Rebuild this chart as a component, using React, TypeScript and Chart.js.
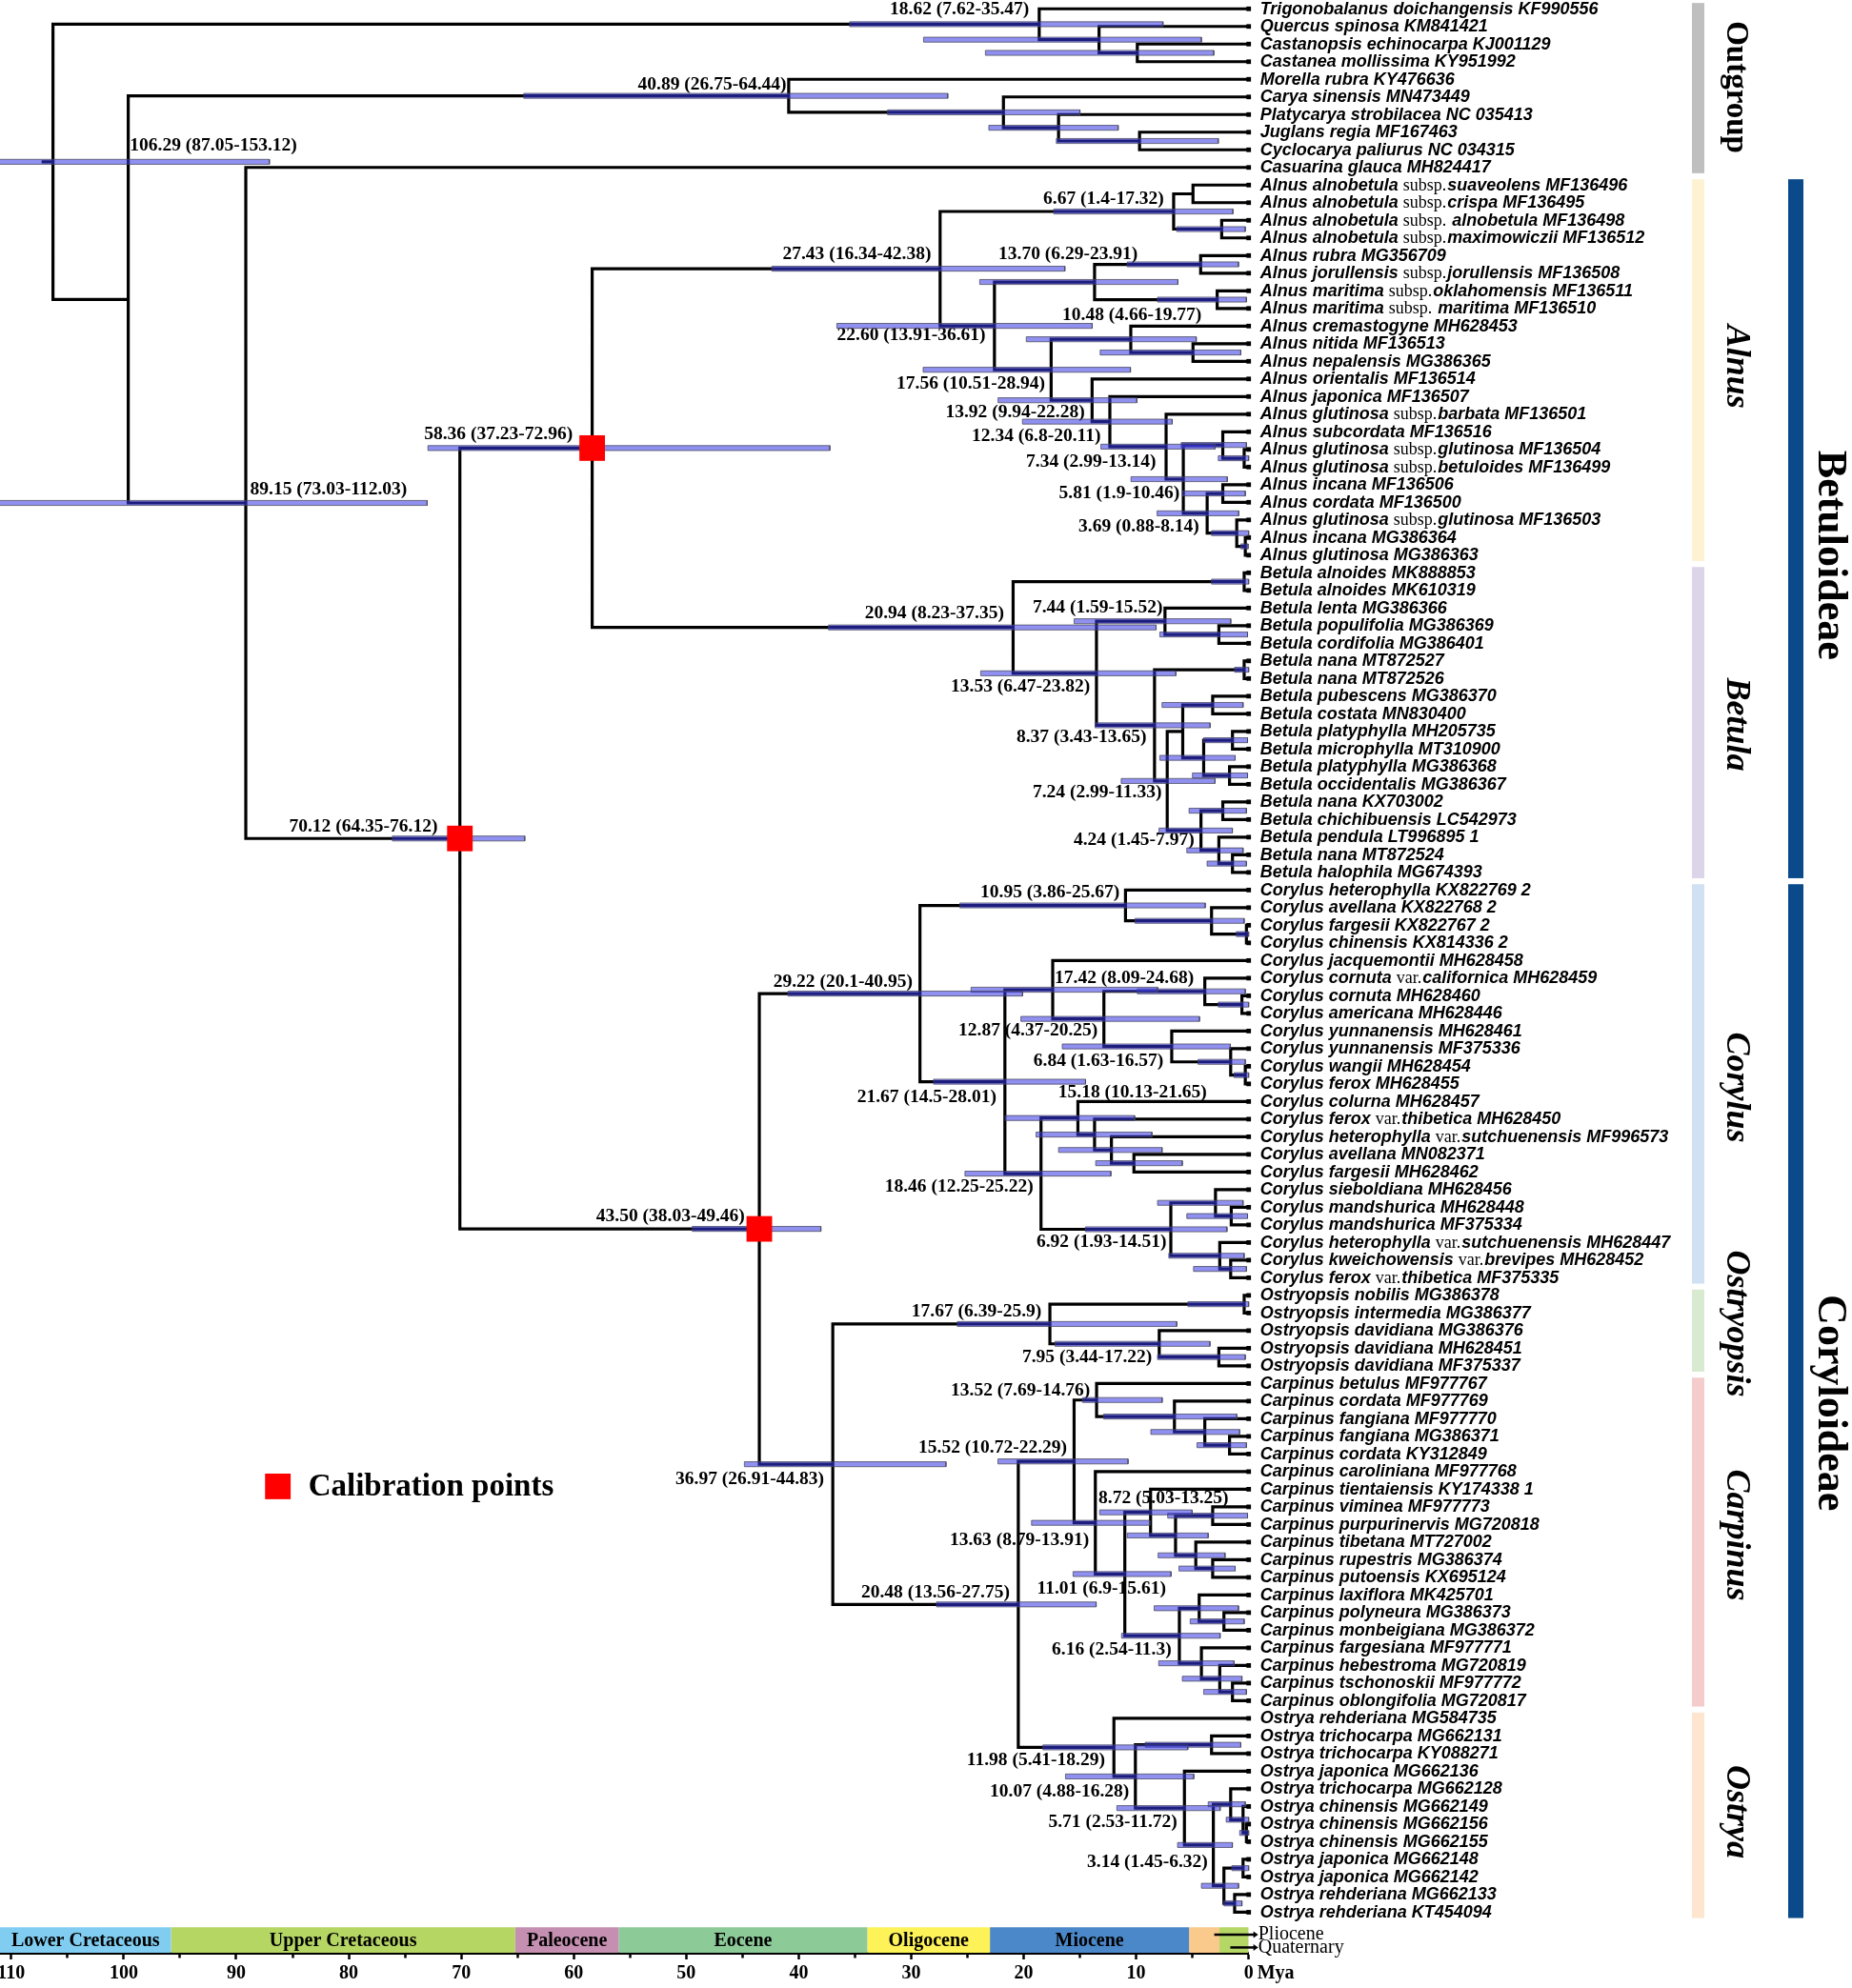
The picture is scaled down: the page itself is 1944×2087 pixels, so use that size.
import React, { useEffect, useRef } from 'react';
import { Chart, registerables } from 'chart.js';

Chart.register(...registerables);

// ------------------------------------------------------------------ DATA
const TIP_NAMES: string[] = [
  'Trigonobalanus doichangensis KF990556', 'Quercus spinosa KM841421', 'Castanopsis echinocarpa KJ001129',
  'Castanea mollissima KY951992', 'Morella rubra KY476636', 'Carya sinensis MN473449',
  'Platycarya strobilacea NC 035413', 'Juglans regia MF167463', 'Cyclocarya paliurus NC 034315',
  'Casuarina glauca MH824417',
  'Alnus alnobetula subsp.suaveolens MF136496', 'Alnus alnobetula subsp.crispa MF136495',
  'Alnus alnobetula subsp. alnobetula MF136498', 'Alnus alnobetula subsp.maximowiczii MF136512',
  'Alnus rubra MG356709', 'Alnus jorullensis subsp.jorullensis MF136508',
  'Alnus maritima subsp.oklahomensis MF136511', 'Alnus maritima subsp. maritima MF136510',
  'Alnus cremastogyne MH628453', 'Alnus nitida MF136513', 'Alnus nepalensis MG386365',
  'Alnus orientalis MF136514', 'Alnus japonica MF136507', 'Alnus glutinosa subsp.barbata MF136501',
  'Alnus subcordata MF136516', 'Alnus glutinosa subsp.glutinosa MF136504',
  'Alnus glutinosa subsp.betuloides MF136499', 'Alnus incana MF136506', 'Alnus cordata MF136500',
  'Alnus glutinosa subsp.glutinosa MF136503', 'Alnus incana MG386364', 'Alnus glutinosa MG386363',
  'Betula alnoides MK888853', 'Betula alnoides MK610319', 'Betula lenta MG386366',
  'Betula populifolia MG386369', 'Betula cordifolia MG386401', 'Betula nana MT872527',
  'Betula nana MT872526', 'Betula pubescens MG386370', 'Betula costata MN830400',
  'Betula platyphylla MH205735', 'Betula microphylla MT310900', 'Betula platyphylla MG386368',
  'Betula occidentalis MG386367', 'Betula nana KX703002', 'Betula chichibuensis LC542973',
  'Betula pendula LT996895 1', 'Betula nana MT872524', 'Betula halophila MG674393',
  'Corylus heterophylla KX822769 2', 'Corylus avellana KX822768 2', 'Corylus fargesii KX822767 2',
  'Corylus chinensis KX814336 2', 'Corylus jacquemontii MH628458', 'Corylus cornuta var.californica MH628459',
  'Corylus cornuta MH628460', 'Corylus americana MH628446', 'Corylus yunnanensis MH628461',
  'Corylus yunnanensis MF375336', 'Corylus wangii MH628454', 'Corylus ferox MH628455',
  'Corylus colurna MH628457', 'Corylus ferox var.thibetica MH628450',
  'Corylus heterophylla var.sutchuenensis MF996573', 'Corylus avellana MN082371', 'Corylus fargesii MH628462',
  'Corylus sieboldiana MH628456', 'Corylus mandshurica MH628448', 'Corylus mandshurica MF375334',
  'Corylus heterophylla var.sutchuenensis MH628447', 'Corylus kweichowensis var.brevipes MH628452',
  'Corylus ferox var.thibetica MF375335',
  'Ostryopsis nobilis MG386378', 'Ostryopsis intermedia MG386377', 'Ostryopsis davidiana MG386376',
  'Ostryopsis davidiana MH628451', 'Ostryopsis davidiana MF375337',
  'Carpinus betulus MF977767', 'Carpinus cordata MF977769', 'Carpinus fangiana MF977770',
  'Carpinus fangiana MG386371', 'Carpinus cordata KY312849', 'Carpinus caroliniana MF977768',
  'Carpinus tientaiensis KY174338 1', 'Carpinus viminea MF977773', 'Carpinus purpurinervis MG720818',
  'Carpinus tibetana MT727002', 'Carpinus rupestris MG386374', 'Carpinus putoensis KX695124',
  'Carpinus laxiflora MK425701', 'Carpinus polyneura MG386373', 'Carpinus monbeigiana MG386372',
  'Carpinus fargesiana MF977771', 'Carpinus hebestroma MG720819', 'Carpinus tschonoskii MF977772',
  'Carpinus oblongifolia MG720817',
  'Ostrya rehderiana MG584735', 'Ostrya trichocarpa MG662131', 'Ostrya trichocarpa KY088271',
  'Ostrya japonica MG662136', 'Ostrya trichocarpa MG662128', 'Ostrya chinensis MG662149',
  'Ostrya chinensis MG662156', 'Ostrya chinensis MG662155', 'Ostrya japonica MG662148',
  'Ostrya japonica MG662142', 'Ostrya rehderiana MG662133', 'Ostrya rehderiana KT454094',
];

// Sub-trees: "(childA,childB)age[hpdLow,hpdHigh]" ; numbers in leaves = tip index ; "*" = calibration node
const FAGACEAE = '(0,(1,(2,3)9.9[3.1,23.4])13.3[4.2,28.9])18.62[7.62,35.47]';
const JUGLANDALES = '(4,(5,(6,(7,8)9.7[2.7,17.1])16.9[11.6,23.1])21.8[15.0,32.1])40.89[26.75,64.44]';

const ALNUS_1 = '((10,11)4.95,(12,13)2.4[0.3,6.4])6.67[1.4,17.32]';
const ALNUS_2 = '((14,15)4.27[0.9,10.8],(16,17)2.8[0.2,8.1])13.70[6.29,23.91]';
const ALNUS_3 = '(18,(19,20)4.95[0.7,13.2])10.48[4.66,19.77]';
const ALNUS_4 =
  '(21,(22,(23,((24,(25,26)0.4[0,2.7])2.3[0.2,6.0],((27,28)2.3[0.3,5.9],(29,(30,31)0.3[0.05,0.7])1.06[0,3.3])3.69[0.88,8.14])5.81[1.9,10.46])7.34[2.99,13.14])12.34[6.8,20.11])13.92[9.94,22.28]';
const ALNUS = `(${ALNUS_1},(${ALNUS_2},(${ALNUS_3},${ALNUS_4})17.56[10.51,28.94])22.60[13.91,36.61])27.43[16.34,42.38]`;

const BETULA_A = '(34,(35,36)2.65[0.1,7.9])7.44[1.59,15.52]';
const BETULA_B = '((39,40)3.2[0.5,7.7],((41,42)1.44[0.1,4.0],(43,44)1.7[0.1,5.0])4.0[1.2,7.9])5.86';
const BETULA_C = '((45,46)2.3[0.2,5.3],(47,(48,49)1.44[0.2,3.7])2.65[0.5,5.5])4.24[1.45,7.97]';
const BETULA = `((32,33)0.4[0,3.3],(${BETULA_A},((37,38)0.4[0,1.25],(${BETULA_B},${BETULA_C})7.24[2.99,11.33])8.37[3.43,13.65])13.53[6.47,23.82])20.94[8.23,37.35]`;

const CORYLUS_1 = '(50,(51,(52,53)0.2[0,1.1])3.3[0.4,10.1])10.95[3.86,25.67]';
const CORYLUS_2 =
  '(54,((55,(56,57)0.6[0,2.7])3.9[0.3,9.9],(58,(59,(60,61)0.3[0,1.3])1.6[0.3,4.5])6.84[1.63,16.57])12.87[4.37,20.25])17.42[8.09,24.68]';
const CORYLUS_3 = '(62,(63,(64,(65,66)10.2[5.9,13.6])12.2[7.7,16.9])13.7[8.6,18.9])15.18[10.13,21.65]';
const CORYLUS_4 = '((67,(68,69)1.55[0.1,5.5])2.95[0.5,8.1],(70,(71,72)1.6[0.2,4.9])2.57[0.4,7.1])6.92[1.93,14.51]';
const CORYLUS = `(${CORYLUS_1},(${CORYLUS_2},(${CORYLUS_3},${CORYLUS_4})18.46[12.25,25.22])21.67[14.5,28.01])29.22[20.1,40.95]`;

const OSTRYOPSIS = '((73,74)0.4[0,5.4],(75,(76,77)2.65[0.3,8.1])7.95[3.44,17.22])17.67[6.39,25.9]';

const CARPINUS_1 = '(78,(79,(80,(81,82)1.7[0.2,4.6])3.9[0.8,8.7])6.6[1.06,12.9])13.52[7.69,14.76]';
const CARPINUS_2 =
  '(83,((84,((85,86)3.2[0.1,7.2],(87,(88,89)3.2[1.2,6.2])4.7[2.1,8.05])6.5[3.6,10.8])8.72[5.03,13.25],((90,(91,92)2.2[0.4,5.2])4.4[0.9,8.4],(93,(94,(95,96)1.44[0.2,4.0])2.57[0.6,5.9])4.2[1.3,8.0])6.16[2.54,11.3])11.01[6.9,15.61])13.63[8.79,19.3]';
const CARPINUS = `(${CARPINUS_1},${CARPINUS_2})15.52[10.72,22.29]`;

const OSTRYA =
  '(97,((98,99)3.3[0.7,9.2],(100,((101,(102,(103,104)0.2[0,0.8])0.5[0,2.0])1.6[0.3,3.6],((105,106)0.5[0,1.5],(107,108)1.25[0.6,2.2])2.2[0.9,4.2])3.14[1.45,6.32])5.71[2.53,11.72])10.07[4.88,16.28])11.98[5.41,18.29]';

const BETULOIDEAE = `(${ALNUS},${BETULA})58.36*[37.23,72.96]`;
const CORYLOIDEAE = `(${CORYLUS},(${OSTRYOPSIS},(${CARPINUS},${OSTRYA})20.48[13.56,27.75])36.97[26.91,44.83])43.50*[38.03,49.46]`;
const BETULACEAE = `(${BETULOIDEAE},${CORYLOIDEAE})70.12*[64.35,76.12]`;
const TREE = `(${FAGACEAE},(${JUGLANDALES},(9,${BETULACEAE})89.15[73.03,112.03])99.6)106.29[87.05,153.12]`;
const ROOT_STUB_AGE = 107.3;

// node age annotations (text, left edge in Mya, centre in tip rows)
const NODE_LABEL_TEXT = [
  '18.62 (7.62-35.47)', '40.89 (26.75-64.44)', '106.29 (87.05-153.12)', '89.15 (73.03-112.03)',
  '58.36 (37.23-72.96)', '70.12 (64.35-76.12)', '43.50 (38.03-49.46)', '36.97 (26.91-44.83)',
  '6.67 (1.4-17.32)', '27.43 (16.34-42.38)', '13.70 (6.29-23.91)', '10.48 (4.66-19.77)',
  '22.60 (13.91-36.61)', '17.56 (10.51-28.94)', '13.92 (9.94-22.28)', '12.34 (6.8-20.11)',
  '7.34 (2.99-13.14)', '5.81 (1.9-10.46)', '3.69 (0.88-8.14)', '20.94 (8.23-37.35)',
  '7.44 (1.59-15.52)', '13.53 (6.47-23.82)', '8.37 (3.43-13.65)', '7.24 (2.99-11.33)',
  '4.24 (1.45-7.97)', '10.95 (3.86-25.67)', '29.22 (20.1-40.95)', '17.42 (8.09-24.68)',
  '12.87 (4.37-20.25)', '6.84 (1.63-16.57)', '21.67 (14.5-28.01)', '15.18 (10.13-21.65)',
  '18.46 (12.25-25.22)', '6.92 (1.93-14.51)', '17.67 (6.39-25.9)', '7.95 (3.44-17.22)',
  '13.52 (7.69-14.76)', '15.52 (10.72-22.29)', '8.72 (5.03-13.25)', '13.63 (8.79-13.91)',
  '20.48 (13.56-27.75)', '11.01 (6.9-15.61)', '6.16 (2.54-11.3)', '11.98 (5.41-18.29)',
  '10.07 (4.88-16.28)', '5.71 (2.53-11.72)', '3.14 (1.45-6.32)',
];
const NODE_LABEL_X = [
  31.9, 54.3, 99.46, 88.76, 73.3, 85.3, 58.0, 50.95, 18.26, 41.43, 22.24, 16.57, 36.6, 31.3, 26.95, 24.61,
  19.79, 16.86, 15.13, 34.13, 19.2, 26.48, 20.64, 19.2, 15.56, 23.85, 42.26, 17.25, 25.8, 19.13, 34.81, 16.93,
  32.35, 18.86, 29.97, 20.14, 26.48, 29.36, 13.35, 26.57, 34.45, 18.82, 17.5, 25.06, 23.0, 17.81, 14.37,
];
const NODE_LABEL_Y = [
  0.05, 4.32, 7.79, 27.3, 24.14, 46.42, 68.52, 83.46, 10.78, 13.95, 13.95, 17.37, 18.54, 21.27, 22.89, 24.24,
  25.69, 27.52, 29.41, 34.33, 33.96, 38.47, 41.34, 44.49, 47.19, 50.13, 55.24, 55.02, 57.99, 59.7, 61.74, 61.5,
  66.87, 69.96, 73.92, 76.53, 78.43, 81.67, 84.54, 86.88, 89.85, 89.67, 93.09, 99.39, 101.16, 102.9, 105.15,
];

// clades on the right
const CLADE_NAMES = ['Outgroup', 'Alnus', 'Betula', 'Corylus', 'Ostryopsis', 'Carpinus', 'Ostrya'];
const CLADE_FIRST = [0, 10, 32, 50, 73, 78, 97];
const CLADE_LAST = [9, 31, 49, 72, 77, 96, 108];
const CLADE_LABEL_Y = [4.45, 20.3, 40.6, 61.2, 74.6, 86.6, 102.3];
const CLADE_COLORS = ['#bfbfbf', '#fdf2d1', '#dcd5ea', '#d0e1f3', '#d8eacf', '#f4cccc', '#fde5cf'];
const SUBFAMILY_NAMES = ['Betuloideae', 'Coryloideae'];
const SUBFAMILY_FIRST = [10, 50];
const SUBFAMILY_LAST = [49, 108];
const SUBFAMILY_LABEL_Y = [31.0, 79.1];

// geological time scale (Mya)
const EPOCH_NAMES = ['Lower Cretaceous', 'Upper Cretaceous', 'Paleocene', 'Eocene', 'Oligocene', 'Miocene', 'Pliocene', 'Quaternary'];
const EPOCH_START = [112, 95.8, 65.2, 56.0, 33.9, 23.0, 5.3, 2.6];
const EPOCH_END = [95.8, 65.2, 56.0, 33.9, 23.0, 5.3, 2.6, 0];
const EPOCH_COLORS = ['#80cdf1', '#b6d663', '#c48fb1', '#8cca98', '#fdf257', '#4a88c9', '#fac98c', '#b5d766'];
const EPOCH_INLINE = [true, true, true, true, true, true, false, false];

// legend
const LEGEND_X = 86.3;
const LEGEND_Y = 83.84;
const LEGEND_TEXT = 'Calibration points';

// ------------------------------------------------------------------ LAYOUT / STYLE
const W = 1944;
const H = 2087;
const X_ZERO_PX = 1310.7;
const X_MAX = 111;
const Y_MIN = -0.5;
const Y_MAX = 110.3;
const BAR_HALF = 0.14;
const SERIF = '"Liberation Serif", "Times New Roman", Times, serif';
const SANS = '"Liberation Sans", Arial, Helvetica, sans-serif';

type TNode = { tip?: number; kids?: TNode[]; age: number; lo?: number; hi?: number; cal?: boolean; y: number };

function parseTree(src: string): TNode {
  const s = src.replace(/\s+/g, '');
  let i = 0;
  const num = (): number => {
    const m = /^-?\d+(\.\d+)?/.exec(s.slice(i));
    if (!m) throw new Error('parse error at ' + i + ': ' + s.slice(i, i + 25));
    i += m[0].length;
    return parseFloat(m[0]);
  };
  const node = (): TNode => {
    if (s[i] === '(') {
      i++;
      const kids: TNode[] = [node()];
      while (s[i] === ',') {
        i++;
        kids.push(node());
      }
      i++; // ')'
      const n: TNode = { kids, age: num(), y: 0 };
      if (s[i] === '*') {
        n.cal = true;
        i++;
      }
      if (s[i] === '[') {
        i++;
        n.lo = num();
        i++;
        n.hi = num();
        i++;
      }
      return n;
    }
    const t = num();
    return { tip: t, age: 0, y: t };
  };
  return node();
}

function layoutY(n: TNode): number {
  if (n.kids) {
    const ys = n.kids.map(layoutY);
    n.y = (ys[0] + ys[ys.length - 1]) / 2;
  }
  return n.y;
}

function allNodes(n: TNode, out: TNode[] = []): TNode[] {
  out.push(n);
  if (n.kids) n.kids.forEach((k) => allNodes(k, out));
  return out;
}

function drawTipLabel(ctx: CanvasRenderingContext2D, text: string, x: number, y: number) {
  const parts = text.split(/(subsp\.|var\.)/);
  let cx = x;
  for (const p of parts) {
    if (!p) continue;
    const upright = p === 'subsp.' || p === 'var.';
    ctx.font = upright ? `18px ${SERIF}` : `italic bold 18px ${SANS}`;
    ctx.fillText(p, cx, y);
    cx += ctx.measureText(p).width + (upright ? 1 : 0);
  }
}

const annotationPlugin = {
  id: 'treeAnnotations',
  beforeDatasetsDraw(chart: any) {
    const { ctx } = chart;
    const xs = chart.scales.x;
    const ys = chart.scales.y;
    ctx.save();
    ctx.fillStyle = '#000';
    ctx.textAlign = 'left';
    ctx.textBaseline = 'middle';
    ctx.font = `bold 19.5px ${SERIF}`;
    NODE_LABEL_TEXT.forEach((t, i) => {
      ctx.fillText(t, xs.getPixelForValue(NODE_LABEL_X[i]), ys.getPixelForValue(NODE_LABEL_Y[i]));
    });
    ctx.restore();
  },
  afterDatasetsDraw(chart: any) {
    const { ctx } = chart;
    const xs = chart.scales.x;
    const ys = chart.scales.y;
    const x0 = xs.getPixelForValue(0);
    ctx.save();
    ctx.fillStyle = '#000';
    ctx.textBaseline = 'middle';
    ctx.textAlign = 'left';
    // tip labels
    TIP_NAMES.forEach((t, i) => drawTipLabel(ctx, t, x0 + 12, ys.getPixelForValue(i) + 0.5));

    // clade colour bars
    const cladeBarX = 1776;
    CLADE_NAMES.forEach((name, i) => {
      const top = ys.getPixelForValue(CLADE_FIRST[i] - 0.33);
      const bot = ys.getPixelForValue(CLADE_LAST[i] + 0.33);
      ctx.fillStyle = CLADE_COLORS[i];
      ctx.fillRect(cladeBarX, top, 13, bot - top);
      ctx.save();
      ctx.translate(1822, ys.getPixelForValue(CLADE_LABEL_Y[i]));
      ctx.rotate(Math.PI / 2);
      ctx.fillStyle = '#000';
      ctx.textAlign = 'center';
      ctx.textBaseline = 'middle';
      ctx.font = i === 0 ? `bold 33px ${SERIF}` : `italic bold 36px ${SERIF}`;
      ctx.fillText(name, 0, 0);
      ctx.restore();
    });
    SUBFAMILY_NAMES.forEach((name, i) => {
      const top = ys.getPixelForValue(SUBFAMILY_FIRST[i] - 0.33);
      const bot = ys.getPixelForValue(SUBFAMILY_LAST[i] + 0.33);
      ctx.fillStyle = '#0b4a8a';
      ctx.fillRect(1877, top, 16, bot - top);
      ctx.save();
      ctx.translate(1920, ys.getPixelForValue(SUBFAMILY_LABEL_Y[i]));
      ctx.rotate(Math.PI / 2);
      ctx.fillStyle = '#000';
      ctx.textAlign = 'center';
      ctx.textBaseline = 'middle';
      ctx.font = `bold 44px ${SERIF}`;
      ctx.fillText(name, 0, 0);
      ctx.restore();
    });

    // epoch labels
    const yTop = ys.getPixelForValue(108.85);
    const yBot = chart.chartArea.bottom;
    const yMid = (yTop + yBot) / 2;
    ctx.font = `bold 20px ${SERIF}`;
    ctx.textAlign = 'center';
    ctx.fillStyle = '#000';
    EPOCH_NAMES.forEach((name, i) => {
      if (!EPOCH_INLINE[i]) return;
      const a = Math.max(0, xs.getPixelForValue(EPOCH_START[i]));
      const b = xs.getPixelForValue(EPOCH_END[i]);
      ctx.fillText(name, (a + b) / 2, yMid + 1);
    });
    // Pliocene / Quaternary call-outs
    const calls = [
      { name: EPOCH_NAMES[6], from: 3.06, y: ys.getPixelForValue(109.27) },
      { name: EPOCH_NAMES[7], from: 1.63, y: ys.getPixelForValue(110.0) },
    ];
    ctx.strokeStyle = '#000';
    ctx.lineWidth = 2.5;
    ctx.font = `20px ${SERIF}`;
    ctx.textAlign = 'left';
    calls.forEach((c) => {
      const xa = xs.getPixelForValue(c.from);
      const xb = x0 + 7;
      ctx.beginPath();
      ctx.moveTo(xa, c.y);
      ctx.lineTo(xb, c.y);
      ctx.stroke();
      ctx.beginPath();
      ctx.moveTo(xb + 3, c.y);
      ctx.lineTo(xb - 2, c.y - 3.5);
      ctx.lineTo(xb - 2, c.y + 3.5);
      ctx.closePath();
      ctx.fill();
      ctx.fillText(c.name, xb + 3, c.y);
    });

    // legend text
    ctx.font = `bold 33px ${SERIF}`;
    ctx.textAlign = 'left';
    ctx.fillText(LEGEND_TEXT, xs.getPixelForValue(LEGEND_X) + 32, ys.getPixelForValue(LEGEND_Y) + 1);
    ctx.restore();
  },
  afterDraw(chart: any) {
    const { ctx } = chart;
    const xs = chart.scales.x;
    ctx.save();
    ctx.font = `bold 20px ${SERIF}`;
    ctx.fillStyle = '#000';
    ctx.textAlign = 'left';
    ctx.textBaseline = 'middle';
    ctx.fillText('Mya', xs.getPixelForValue(0) + 9, chart.chartArea.bottom + 22);
    ctx.restore();
  },
};

export default function App() {
  const ref = useRef<HTMLCanvasElement>(null);
  useEffect(() => {
    const canvas = ref.current;
    if (!canvas) return;
    const root = parseTree(TREE);
    layoutY(root);
    const nodes = allNodes(root);
    const internal = nodes.filter((n) => n.kids);

    // branches (elbow per internal node)
    const branchPts: { x: number; y: number }[] = [];
    internal.forEach((n) => {
      const a = n.kids![0];
      const b = n.kids![n.kids!.length - 1];
      branchPts.push({ x: a.age, y: a.y }, { x: n.age, y: a.y }, { x: n.age, y: b.y }, { x: b.age, y: b.y });
      branchPts.push({ x: NaN, y: NaN });
    });
    branchPts.push({ x: ROOT_STUB_AGE, y: root.y }, { x: root.age, y: root.y });

    // HPD bars
    const hpdSets = internal
      .filter((n) => n.lo !== undefined && n.hi !== undefined)
      .map((n) => ({
        label: 'hpd',
        data: [
          { x: n.hi!, y: n.y - BAR_HALF },
          { x: n.lo!, y: n.y - BAR_HALF },
          { x: n.lo!, y: n.y + BAR_HALF },
          { x: n.hi!, y: n.y + BAR_HALF },
          { x: n.hi!, y: n.y - BAR_HALF },
        ],
        showLine: true,
        fill: 'shape',
        backgroundColor: 'rgba(52,52,228,0.55)',
        borderColor: 'rgba(70,70,90,0.75)',
        borderWidth: 1,
        pointRadius: 0,
        order: 1,
        clip: false,
      }));

    // epoch boxes
    const epochSets = EPOCH_NAMES.map((name, i) => ({
      label: name,
      data: [
        { x: EPOCH_START[i], y: 108.85 },
        { x: EPOCH_END[i], y: 108.85 },
        { x: EPOCH_END[i], y: Y_MAX },
        { x: EPOCH_START[i], y: Y_MAX },
        { x: EPOCH_START[i], y: 108.85 },
      ],
      showLine: true,
      fill: 'shape',
      backgroundColor: EPOCH_COLORS[i],
      borderColor: EPOCH_COLORS[i],
      borderWidth: 0,
      pointRadius: 0,
      order: 5,
      clip: false,
    }));

    const calPts = internal.filter((n) => n.cal).map((n) => ({ x: n.age, y: n.y }));
    calPts.push({ x: LEGEND_X, y: LEGEND_Y });

    const tipPts = TIP_NAMES.map((_, i) => ({ x: 0, y: i }));

    const chart = new Chart(canvas, {
      type: 'scatter',
      data: {
        datasets: [
          {
            label: 'calibration',
            data: calPts,
            pointStyle: 'rect',
            pointRadius: 19,
            pointBackgroundColor: '#ff0000',
            pointBorderWidth: 0,
            order: 0,
            clip: false,
          } as any,
          ...hpdSets,
          {
            label: 'tips',
            data: tipPts,
            pointStyle: 'rect',
            pointRadius: 3.4,
            pointBackgroundColor: '#000',
            pointBorderWidth: 0,
            order: 2,
            clip: false,
          },
          {
            label: 'branches',
            data: branchPts,
            showLine: true,
            borderColor: '#000',
            borderWidth: 3.2,
            borderJoinStyle: 'miter',
            borderCapStyle: 'butt',
            pointRadius: 0,
            spanGaps: false,
            order: 3,
            clip: false,
          },
          ...epochSets,
        ],
      },
      options: {
        responsive: false,
        animation: false,
        devicePixelRatio: 1,
        events: [],
        layout: { autoPadding: false, padding: { left: 0, top: 0, right: W - X_ZERO_PX, bottom: 0 } },
        plugins: { legend: { display: false }, tooltip: { enabled: false } },
        scales: {
          x: {
            type: 'linear',
            reverse: true,
            min: 0,
            max: X_MAX,
            position: 'bottom',
            afterFit: (scale: any) => {
              scale.paddingLeft = 0;
              scale.paddingRight = 0;
            },
            ticks: {
              stepSize: 5,
              includeBounds: false,
              autoSkip: false,
              maxRotation: 0,
              minRotation: 0,
              padding: 3,
              color: '#000',
              font: { family: SERIF, weight: 'bold', size: 20 },
              callback: (v: any) => (Number(v) % 10 === 0 ? String(v) : ''),
            },
            grid: {
              drawOnChartArea: false,
              drawTicks: true,
              tickLength: 7,
              tickColor: '#000',
              tickWidth: 2.5,
              tickBorderDash: (c: any) => (c.tick && c.tick.value % 10 !== 0 ? [3.5, 100] : []),
            },
            border: { display: true, color: '#000', width: 3 },
          },
          y: { type: 'linear', reverse: true, min: Y_MIN, max: Y_MAX, display: false },
        },
      } as any,
      plugins: [annotationPlugin],
    });
    return () => chart.destroy();
  }, []);

  return (
    <div style={{ position: 'absolute', left: 0, top: 0, width: W, height: H, background: '#fff' }}>
      <canvas ref={ref} width={W} height={H} style={{ display: 'block', width: W, height: H }} />
    </div>
  );
}
